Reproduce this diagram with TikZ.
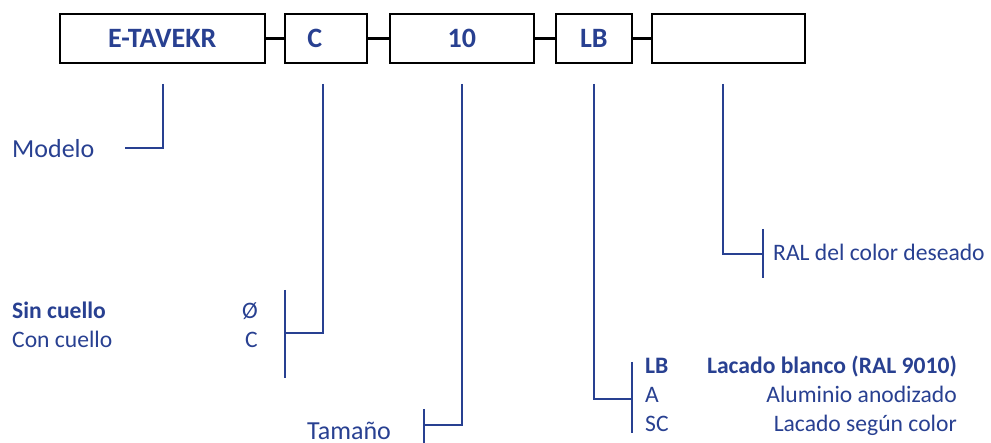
\documentclass[tikz,border=0pt]{standalone}
\usepackage{fontspec}
\setmainfont{Carlito}
\definecolor{codeblue}{RGB}{40,64,145}
\begin{document}
\begin{tikzpicture}[x=1pt,y=-1pt,
  codebox/.style={draw=black,line width=1.6pt,minimum height=49pt,inner sep=0pt,
    anchor=north west,font=\fontsize{28}{32}\selectfont\bfseries,text=codeblue},
  joint/.style={line width=3.5pt,black},
  lead/.style={draw=codeblue,line width=2pt},
  lbl/.style={text=codeblue,inner sep=0pt,anchor=base west,font=\fontsize{23.6}{28}\selectfont},
  lblr/.style={lbl,anchor=base east},
  big/.style={font=\fontsize{26}{30}\selectfont}]
\useasboundingbox (0,0) rectangle (991,443);

% code boxes
\node[codebox,minimum width=205pt] (bm) at (59,13) {E-TAVEKR};
\node[codebox,minimum width=82pt]  (bc) at (284,13) {C\hspace*{22pt}};
\node[codebox,minimum width=144pt] (bs) at (389,13) {10};
\node[codebox,minimum width=76pt]  (bl) at (555,13) {LB};
\node[codebox,minimum width=153pt] (br) at (651,13) {};

% joints between boxes
\draw[joint] (bm.east) -- (bc.west);
\draw[joint] (bc.east) -- (bs.west);
\draw[joint] (bs.east) -- (bl.west);
\draw[joint] (bl.east) -- (br.west);

% tops of the leads
\coordinate (tm) at (163,84);
\coordinate (tc) at (323,84);
\coordinate (ts) at (462,84);
\coordinate (tl) at (594,84);
\coordinate (tr) at (723,84);

% Modelo
\coordinate (em) at (125,148);
\draw[lead] (tm) |- (em);
\node[lbl,big] (modelo) at (12,158) {Modelo};

% collar
\coordinate (ca) at (285,290);
\coordinate (cb) at (285,378);
\coordinate (cm) at (285,333);
\draw[lead] (ca) -- (cb);
\draw[lead] (tc) |- (cm);
\node[lbl,font=\fontsize{23.6}{28}\selectfont\bfseries] (sin) at (12,319) {Sin cuello};
\node[lbl] (con) at (12,348) {Con cuello};
\node[lblr] (sinc) at (258,319) {Ø};
\node[lblr] (conc) at (258,348) {C};

% size
\coordinate (sa) at (424,409);
\coordinate (sb) at (424,443);
\coordinate (sm) at (424,425);
\draw[lead] (sa) -- (sb);
\draw[lead] (ts) |- (sm);
\node[lbl,big] (tam) at (307,439) {Tamaño};

% finish
\coordinate (la) at (632,362);
\coordinate (lb) at (632,433);
\coordinate (lm) at (632,399);
\draw[lead] (la) -- (lb);
\draw[lead] (tl) |- (lm);
\node[lbl,font=\fontsize{23.6}{28}\selectfont\bfseries] (lb1) at (645,374) {LB};
\node[lbl] (lb2) at (645,403) {A};
\node[lbl] (lb3) at (645,432) {SC};
\node[lblr,font=\fontsize{23.6}{28}\selectfont\bfseries] (ld1) at (957,374) {Lacado blanco (RAL 9010)};
\node[lblr] (ld2) at (957,403) {Aluminio anodizado};
\node[lblr] (ld3) at (957,432) {Lacado según color};

% RAL colour
\coordinate (ra) at (763,229);
\coordinate (rb) at (763,278);
\coordinate (rm) at (763,254);
\draw[lead] (ra) -- (rb);
\draw[lead] (tr) |- (rm);
\node[lbl] (ral) at (773,261) {RAL del color deseado};
\end{tikzpicture}
\end{document}
